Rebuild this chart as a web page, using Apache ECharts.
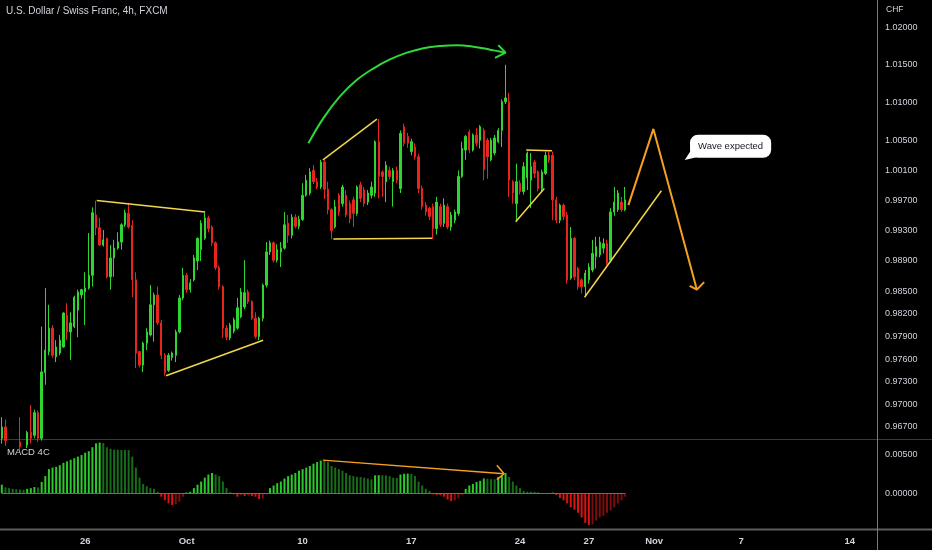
<!DOCTYPE html>
<html><head><meta charset="utf-8">
<script src="https://cdn.jsdelivr.net/npm/echarts@6/dist/echarts.min.js"></script>
<style>html,body{margin:0;padding:0;background:#000;}#c{width:932px;height:550px;}</style>
</head><body><div id="c"></div>
<script>
// ---- price data (4h candles) ----
const openP = [0.9655,0.9670,0.9648,0.9645,0.9649,0.9650,0.9644,0.9646,0.9663,0.9659,0.9689,
0.9655,0.9742,0.9770,0.9801,0.9763,0.9768,0.9776,0.9818,0.9796,0.9803,
0.9825,0.9845,0.9849,0.9854,0.9871,0.9951,0.9934,0.9911,0.9920,0.9869,
0.9894,0.9907,0.9915,0.9938,0.9953,0.9937,0.9865,0.9770,0.9752,0.9781,
0.9792,0.9832,0.9845,0.9808,0.9765,0.9745,0.9762,0.9765,0.9796,0.9841,
0.9871,0.9852,0.9865,0.9890,0.9905,0.9920,0.9947,0.9935,0.9914,0.9881,
0.9856,0.9801,0.9788,0.9797,0.9801,0.9816,0.9829,0.9849,0.9836,0.9814,
0.9790,0.9814,0.9858,0.9902,0.9914,0.9891,0.9902,0.9907,0.9940,0.9924,
0.9948,0.9936,0.9945,0.9977,0.9980,1.0010,0.9995,0.9988,1.0021,0.9985,
0.9958,0.9935,0.9977,0.9966,0.9977,0.9966,0.9971,0.9953,0.9991,0.9984,
0.9968,0.9977,0.9980,1.0048,1.0008,0.9995,1.0010,0.9995,1.0010,0.9986,
1.0068,1.0055,1.0035,1.0041,1.0028,0.9986,0.9964,0.9960,0.9962,0.9933,
0.9962,0.9940,0.9962,0.9935,0.9944,0.9953,1.0002,1.0037,1.0061,1.0037,
1.0057,1.0050,1.0063,1.0050,1.0024,1.0033,1.0048,1.0063,1.0101,1.0101,
0.9995,0.9966,0.9993,0.9982,1.0000,0.9997,1.0021,1.0008,0.9986,1.0006,
1.0030,1.0030,0.9971,0.9944,0.9964,0.9951,0.9867,0.9920,0.9880,0.9865,
0.9856,0.9865,0.9878,0.9896,0.9898,0.9907,0.9913,0.9891,0.9955,0.9958,
0.9968,0.9958];
const closeP = [0.9670,0.9652,0.9645,0.9649,0.9643,0.9644,0.9648,0.9663,0.9655,0.9689,0.9655,
0.9743,0.9772,0.9801,0.9765,0.9776,0.9785,0.9821,0.9796,0.9808,0.9842,
0.9849,0.9852,0.9854,0.9871,0.9954,0.9934,0.9911,0.9918,0.9869,0.9894,
0.9907,0.9915,0.9938,0.9954,0.9935,0.9865,0.9768,0.9752,0.9781,0.9796,
0.9832,0.9845,0.9808,0.9765,0.9742,0.9765,0.9768,0.9796,0.9841,0.9871,
0.9852,0.9861,0.9894,0.9920,0.9940,0.9947,0.9933,0.9914,0.9881,0.9856,
0.9801,0.9789,0.9805,0.9812,0.9828,0.9849,0.9848,0.9836,0.9814,0.9790,
0.9814,0.9858,0.9902,0.9914,0.9891,0.9905,0.9907,0.9938,0.9924,0.9948,
0.9936,0.9945,0.9977,0.9997,1.0008,0.9995,0.9988,1.0021,0.9985,0.9958,
0.9930,0.9962,0.9955,0.9988,0.9951,0.9946,0.9953,0.9988,0.9973,0.9966,
0.9980,0.9988,1.0048,1.0002,1.0002,1.0017,1.0002,1.0010,0.9997,1.0059,
1.0046,1.0046,1.0048,1.0028,0.9986,0.9962,0.9955,0.9949,0.9933,0.9968,
0.9938,0.9964,0.9935,0.9951,0.9955,1.0002,1.0039,1.0055,1.0037,1.0057,
1.0046,1.0068,1.0011,1.0028,1.0050,1.0053,1.0063,1.0101,1.0106,0.9997,
0.9980,0.9995,0.9982,1.0015,1.0033,1.0015,1.0006,0.9986,1.0008,1.0030,
1.0024,0.9971,0.9944,0.9964,0.9949,0.9865,0.9920,0.9869,0.9856,0.9856,
0.9874,0.9882,0.9900,0.9909,0.9915,0.9913,0.9887,0.9955,0.9968,0.9980,
0.9958,0.9971];
const lowP = [0.9648,0.9645,0.9638,0.9640,0.9636,0.9638,0.9640,0.9642,0.9648,0.9655,0.9650,
0.9652,0.9726,0.9765,0.9762,0.9756,0.9765,0.9775,0.9785,0.9759,0.9801,
0.9789,0.9840,0.9805,0.9852,0.9856,0.9924,0.9910,0.9909,0.9867,0.9852,
0.9869,0.9905,0.9905,0.9935,0.9933,0.9842,0.9748,0.9749,0.9743,0.9772,
0.9790,0.9783,0.9805,0.9760,0.9738,0.9743,0.9758,0.9756,0.9794,0.9838,
0.9848,0.9848,0.9863,0.9878,0.9890,0.9918,0.9928,0.9910,0.9878,0.9852,
0.9788,0.9785,0.9785,0.9794,0.9799,0.9814,0.9826,0.9833,0.9812,0.9787,
0.9785,0.9810,0.9855,0.9898,0.9888,0.9888,0.9882,0.9905,0.9914,0.9920,
0.9933,0.9932,0.9943,0.9975,0.9977,0.9992,0.9985,0.9985,0.9972,0.9952,
0.9919,0.9933,0.9950,0.9962,0.9948,0.9940,0.9935,0.9950,0.9968,0.9962,
0.9964,0.9973,0.9975,0.9973,0.9975,0.9968,0.9998,0.9962,0.9993,0.9980,
1.0042,1.0040,1.0030,1.0024,0.9980,0.9958,0.9950,0.9944,0.9919,0.9925,
0.9935,0.9935,0.9932,0.9930,0.9940,0.9950,1.0000,1.0024,1.0033,1.0035,
1.0042,1.0039,0.9997,0.9999,1.0022,1.0030,1.0046,1.0041,1.0098,0.9975,
0.9966,0.9942,0.9978,0.9978,0.9984,0.9960,1.0000,0.9982,0.9982,1.0004,
1.0020,0.9944,0.9940,0.9940,0.9944,0.9860,0.9865,0.9865,0.9852,0.9847,
0.9843,0.9860,0.9875,0.9880,0.9895,0.9900,0.9885,0.9888,0.9950,0.9955,
0.9955,0.9956];
const highP = [0.9683,0.9680,0.9652,0.9653,0.9652,0.9683,0.9652,0.9665,0.9699,0.9693,0.9692,
0.9803,0.9854,0.9832,0.9805,0.9785,0.9792,0.9822,0.9834,0.9822,0.9844,
0.9852,0.9853,0.9875,0.9927,0.9961,0.9970,0.9947,0.9931,0.9921,0.9911,
0.9918,0.9928,0.9940,0.9958,0.9967,0.9944,0.9875,0.9771,0.9783,0.9801,
0.9858,0.9848,0.9856,0.9812,0.9768,0.9768,0.9770,0.9799,0.9845,0.9881,
0.9874,0.9866,0.9898,0.9921,0.9944,0.9954,0.9950,0.9937,0.9916,0.9884,
0.9858,0.9805,0.9808,0.9815,0.9841,0.9854,0.9891,0.9852,0.9838,0.9822,
0.9816,0.9860,0.9915,0.9917,0.9916,0.9912,0.9915,0.9955,0.9951,0.9952,
0.9952,0.9950,0.9993,1.0004,1.0013,1.0017,1.0000,1.0024,1.0024,0.9995,
0.9960,0.9971,0.9980,0.9991,0.9984,0.9970,0.9975,0.9990,0.9995,0.9988,
0.9984,0.9995,1.0050,1.0078,1.0010,1.0022,1.0015,1.0013,1.0015,1.0063,
1.0072,1.0060,1.0052,1.0046,1.0032,0.9990,0.9968,0.9962,0.9966,0.9975,
0.9966,0.9973,0.9966,0.9955,0.9958,1.0010,1.0048,1.0057,1.0064,1.0059,
1.0066,1.0070,1.0066,1.0053,1.0053,1.0057,1.0066,1.0104,1.0150,1.0113,
0.9997,1.0019,0.9997,1.0021,1.0035,1.0033,1.0024,1.0010,1.0011,1.0035,
1.0035,1.0035,0.9975,0.9966,0.9966,0.9955,0.9935,0.9922,0.9882,0.9867,
0.9878,0.9887,0.9918,0.9922,0.9922,0.9920,0.9918,0.9960,0.9988,0.9984,
0.9975,0.9988];
// ---- MACD 4C histogram ----
const macdHist = [0.0011,0.00075,0.00066,0.00057,0.00053,0.00048,0.00044,0.00057,0.00066,0.0008,0.00075,
0.00145,0.0022,0.0031,0.0033,0.0034,0.0036,0.0039,0.0041,0.0043,0.0045,
0.0047,0.0049,0.0052,0.0054,0.0059,0.0064,0.0065,0.00645,0.0059,0.0057,
0.0056,0.00558,0.00556,0.00555,0.00553,0.0047,0.0033,0.0020,0.0012,0.0009,
0.00066,0.00057,0.0002,-0.00044,-0.0009,-0.0013,-0.0015,-0.0014,-0.0011,-0.00044,
0.0001,0.0002,0.00066,0.0011,0.0015,0.0020,0.0024,0.0026,0.0024,0.0022,
0.0015,0.00066,0.00013,-0.00013,-0.00044,-0.00022,-0.00035,-0.0003,-0.00035,-0.00044,
-0.00075,-0.00066,-0.00013,0.00066,0.0010,0.0013,0.0015,0.0019,0.0022,0.0024,0.0026,
0.0029,0.0031,0.0033,0.0035,0.0038,0.0040,0.0042,
0.00418,0.0040,0.0035,0.0033,0.0031,0.0029,0.0026,0.0023,0.0022,0.0021,
0.00208,0.0020,0.0019,0.0018,0.0023,0.00232,0.00231,0.0023,0.0022,0.0020,
0.00198,0.0024,0.0025,0.00252,0.0025,0.0022,0.0015,0.0010,0.00057,0.0003,
-0.00013,-0.00022,-0.00024,-0.00044,-0.0008,-0.0010,-0.0009,-0.00066,-0.00022,0.00057,
0.0010,0.0012,0.00145,0.0016,0.0019,0.00188,0.0018,0.00178,0.0021,0.0023,
0.0026,0.0021,0.0015,0.0010,0.00066,0.0003,0.0002,0.00019,0.00018,0.00013,
-0.00004,-0.00005,0.00004,0.00009,-0.00022,-0.0006,-0.0009,-0.0013,-0.0018,-0.0021,
-0.0025,-0.0031,-0.0038,-0.0041,-0.0040,-0.0035,-0.0031,-0.0029,-0.0025,-0.0022,
-0.0018,-0.0013,-0.0009,-0.00044];
// ---- axes ----
const priceTicks = [1.02,1.015,1.01,1.005,1.001,0.997,0.993,0.989,0.985,0.982,0.979,0.976,0.973,0.970,0.967];
const macdTicks = [0.005, 0];
const xTickLabels = ['26','Oct','10','17','24','27','Nov','7','14'];
const xTickIndex = [23,51,83,113,143,162,180,204,234];
const slotCount = 242;
// ---- drawings: [bar index, price] ----
const yellowLines = [
  [[26.2,0.9970],[56.1,0.9955]],
  [[45.3,0.9738],[72.1,0.9785]],
  [[88.6,1.0024],[103.5,1.0078]],
  [[91.5,0.9919],[118.7,0.9920]],
  [[141.8,0.9942],[149.7,0.9986]],
  [[144.7,1.0037],[151.8,1.0036]],
  [[160.8,0.9842],[182.0,0.9983]]
];
const orangeWave = [[172.9,0.9964],[179.8,1.0065],[191.8,0.9852]];
const orangeWaveHead = [[189.8,0.9857],[191.8,0.9852],[193.8,0.9862]];
const greenArc = [[84.6,1.0046],[88.7,1.0079],[93.3,1.0108],[98.0,1.0130],[102.5,1.0145],[107.1,1.0157],[111.8,1.0166],[116.3,1.0172],[121.0,1.0175],[125.6,1.0176],[130.1,1.0174],[134.7,1.0170],[139.0,1.0166]];
const greenArcHead = [[137.0,1.0176],[139.0,1.0166],[136.1,1.0159]];
const macdLine = [[88.6,0.00425],[138.6,0.0025]];
const macdLineHead = [[136.6,0.0036],[138.6,0.0025],[136.6,0.00175]];
const calloutText = 'Wave expected';
const calloutAt = [201.1, 1.0042];
const calloutTail = [189.7, 1.0028];

const cats = Array.from({length: slotCount}, (_, i) => String(i));
const candles = openP.map((o, i) => [o, closeP[i], lowP[i], highP[i]]);
const macdColors = macdHist.map((v, i) => {
  const p = i > 0 ? macdHist[i - 1] : v;
  if (v >= 0) return v >= p ? '#2cc92c' : '#176d19';
  return v <= p ? '#dc1212' : '#7e0c0c';
});

const FONT = 'Liberation Sans';
const UP = '#2fd62f', DOWN = '#e8241e';

function seg(data, color, width, xi, yi, smooth) {
  return { type: 'line', data, xAxisIndex: xi, yAxisIndex: yi, symbol: 'none', smooth: smooth || false,
    silent: true, z: 6, lineStyle: { color, width }, animation: false };
}

const series = [
  { type: 'candlestick', data: candles, xAxisIndex: 0, yAxisIndex: 0, barWidth: '52%', clip: true,
    itemStyle: { color: UP, color0: DOWN, borderColor: UP, borderColor0: DOWN, borderWidth: 1 } },
  { type: 'bar', data: macdHist.map((v, i) => ({ value: v, itemStyle: { color: macdColors[i] } })),
    xAxisIndex: 1, yAxisIndex: 1, barWidth: '55%',
    markLine: { silent: true, symbol: 'none', label: { show: false },
      lineStyle: { color: '#6f6f6f', width: 1, type: 'solid' },
      data: [[{ coord: ['0', 0] }, { coord: [String(macdHist.length - 1), 0] }]] } }
];
yellowLines.forEach(l => series.push(seg(l, '#f3d64c', 1.5, 2, 0)));
series.push(seg(orangeWave, '#f5a020', 2, 2, 0));
series.push(seg(orangeWaveHead, '#f5a020', 2, 2, 0));
series.push(seg(greenArc, '#2fd83a', 2, 2, 0, 0.4));
series.push(seg(greenArcHead, '#2fd83a', 2, 2, 0));
series.push(seg(macdLine, '#f5a020', 1.5, 3, 1));
series.push(seg(macdLineHead, '#f5a020', 1.5, 3, 1));
series.push({ type: 'scatter', xAxisIndex: 2, yAxisIndex: 0, data: [calloutTail], symbol: 'triangle',
  symbolSize: [9, 11], symbolRotate: 125, itemStyle: { color: '#ffffff', opacity: 1 }, z: 7, silent: true });
series.push({ type: 'scatter', xAxisIndex: 2, yAxisIndex: 0, data: [calloutAt], symbolSize: 1,
  itemStyle: { color: 'rgba(0,0,0,0)', opacity: 1 }, z: 8, silent: true,
  label: { show: true, position: 'inside', formatter: calloutText, color: '#131722', fontSize: 9.5,
    opacity: 1, fontFamily: FONT, backgroundColor: '#ffffff', borderRadius: 8, padding: [7, 8, 6, 8] } });

const option = {
  backgroundColor: '#000000',
  animation: false,
  title: [
    { text: 'U.S. Dollar / Swiss Franc, 4h, FXCM', left: 6, top: 6, padding: 0,
      textStyle: { color: '#d1d4dc', fontSize: 10, fontWeight: 'normal', fontFamily: FONT } },
    { text: 'MACD 4C', left: 7, top: 447, padding: 0,
      textStyle: { color: '#d1d4dc', fontSize: 9.5, fontWeight: 'normal', fontFamily: FONT } },
    { text: 'CHF', left: 886, top: 5, padding: 0,
      textStyle: { color: '#d1d4dc', fontSize: 8.5, fontWeight: 'normal', fontFamily: FONT } }
  ],
  grid: [
    { left: 0, right: 55, top: 0, height: 439 },
    { left: 0, right: 55, top: 440, height: 89 }
  ],
  xAxis: [
    { type: 'category', gridIndex: 0, data: cats, boundaryGap: true, show: false },
    { type: 'category', gridIndex: 1, data: cats, boundaryGap: true,
      axisLine: { show: false }, axisTick: { show: false }, splitLine: { show: false },
      axisLabel: { interval: (i) => xTickIndex.indexOf(i) >= 0, margin: 7,
        formatter: (v, i) => { const k = xTickIndex.indexOf(i); return k >= 0 ? xTickLabels[k] : ''; },
        color: '#d1d4dc', fontSize: 9.5, fontWeight: 'bold', fontFamily: FONT } },
    { type: 'value', gridIndex: 0, min: -0.5, max: slotCount - 0.5, show: false },
    { type: 'value', gridIndex: 1, min: -0.5, max: slotCount - 0.5, show: false }
  ],
  yAxis: [
    { type: 'value', gridIndex: 0, position: 'right', min: 0.96541, max: 1.02358, scale: true,
      axisLine: { show: false }, axisTick: { show: false }, splitLine: { show: false },
      axisLabel: { customValues: priceTicks, formatter: v => v.toFixed(5), margin: 8,
        color: '#d1d4dc', fontSize: 9, fontFamily: FONT } },
    { type: 'value', gridIndex: 1, position: 'right', min: -0.00458, max: 0.00683,
      axisLine: { show: false }, axisTick: { show: false }, splitLine: { show: false },
      axisLabel: { customValues: macdTicks, formatter: v => v.toFixed(5), margin: 8,
        color: '#d1d4dc', fontSize: 9, fontFamily: FONT } }
  ],
  graphic: [
    { type: 'line', shape: { x1: 0, y1: 439.5, x2: 932, y2: 439.5 }, style: { stroke: '#3a3a3a', lineWidth: 1 }, silent: true },
    { type: 'line', shape: { x1: 0, y1: 529.5, x2: 932, y2: 529.5 }, style: { stroke: '#5e5e5e', lineWidth: 2 }, silent: true },
    { type: 'line', shape: { x1: 877.5, y1: 0, x2: 877.5, y2: 550 }, style: { stroke: '#7a7a7a', lineWidth: 1 }, silent: true }
  ],
  series
};
const chart = echarts.init(document.getElementById('c'), null, { renderer: 'canvas' });
chart.setOption(option);
</script></body></html>
